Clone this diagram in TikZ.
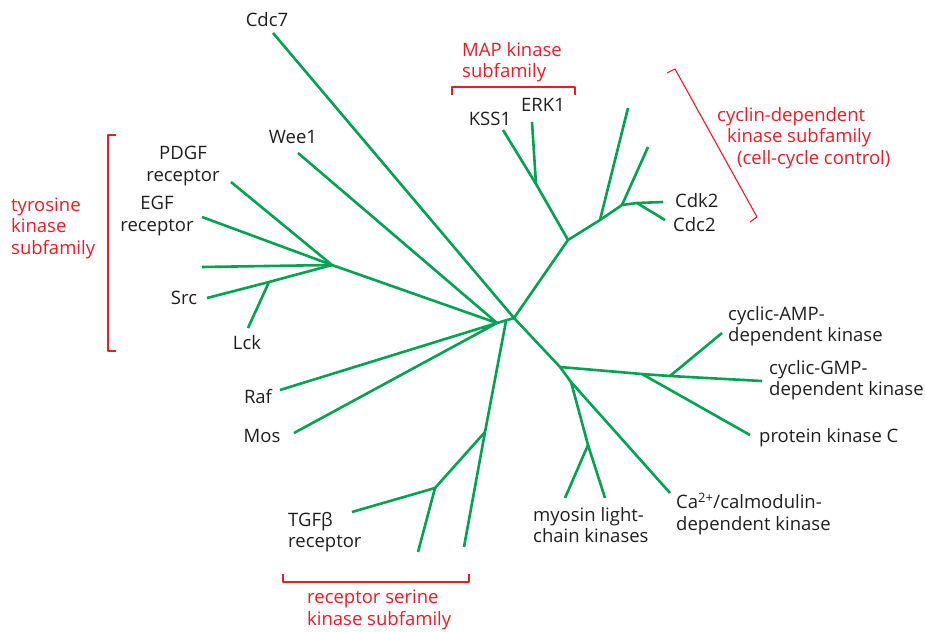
\documentclass[tikz,border=0pt]{standalone}
\usepackage{fontspec}
\setmainfont{Open Sans}
\usetikzlibrary{positioning}
\definecolor{treegreen}{RGB}{0,163,82}
\definecolor{famred}{RGB}{237,28,36}

\begin{document}
\begin{tikzpicture}[x=1pt, y=-1pt, line join=round,
    branch/.style = {draw=treegreen, line width=2.6pt},
    bracket/.style = {draw=famred, line width=1.1pt},
    lbl/.style = {font=\fontsize{18.5}{21.5}\selectfont, text=black!88, inner sep=0pt, align=left},
    fam/.style = {lbl, text=famred}]
    \useasboundingbox (0,0) rectangle (925,631);

    % junctions
    \coordinate (j0) at (497,323);
    \coordinate (j1) at (514,318);
    \coordinate (jr) at (506,321);
    \coordinate (ty) at (332,265);
    \coordinate (lckj) at (269,282);
    \coordinate (r1) at (485,432);
    \coordinate (r2) at (435,488);
    \coordinate (m0) at (568,240);
    \coordinate (m1) at (536,184);
    \coordinate (c1) at (600,220);
    \coordinate (c2) at (622,205);
    \coordinate (c3) at (637,203);
    \coordinate (p0) at (560,367);
    \coordinate (p1) at (642,374);
    \coordinate (p2) at (670,376);
    \coordinate (p3) at (571,382);
    \coordinate (p4) at (588,445);
    % leaf ends
    \coordinate (cdc7end) at (273,33);
    \coordinate (wee1end) at (298,153);
    \coordinate (pdgfend) at (231,182);
    \coordinate (egfend) at (202,217);
    \coordinate (tyxend) at (202,267);
    \coordinate (srcend) at (207,298);
    \coordinate (lckend) at (248,328);
    \coordinate (rafend) at (280,390);
    \coordinate (mosend) at (294,433);
    \coordinate (r1end) at (464,547);
    \coordinate (tgfbend) at (352,512);
    \coordinate (r2end) at (418,552);
    \coordinate (kss1end) at (503,130);
    \coordinate (erk1end) at (532,122);
    \coordinate (c1end) at (628,108);
    \coordinate (c2end) at (648,147);
    \coordinate (cdk2end) at (663,202);
    \coordinate (cdc2end) at (665,220);
    \coordinate (campend) at (722,333);
    \coordinate (cgmpend) at (762,381);
    \coordinate (pkcend) at (750,435);
    \coordinate (caend) at (670,493);
    \coordinate (my1end) at (565,498);
    \coordinate (my2end) at (605,498);

    % tree
    \draw[branch] (cdc7end) -- (j1) -- (p0) -- (p3) -- (caend);
    \draw[branch] (wee1end) -- (j0) -- (j1) -- (m0) -- (c1) -- (c2) -- (c3) -- (cdk2end);
    \draw[branch] (m0) -- (m1) -- (kss1end);
    \draw[branch] (m1) -- (erk1end);
    \draw[branch] (c1) -- (c1end);
    \draw[branch] (c2) -- (c2end);
    \draw[branch] (c3) -- (cdc2end);
    \draw[branch] (j0) -- (ty) -- (pdgfend);
    \draw[branch] (ty) -- (egfend);
    \draw[branch] (ty) -- (tyxend);
    \draw[branch] (ty) -- (lckj) -- (srcend);
    \draw[branch] (lckj) -- (lckend);
    \draw[branch] (rafend) -- (j0) -- (mosend);
    \draw[branch] (jr) -- (r1) -- (r1end);
    \draw[branch] (r1) -- (r2) -- (tgfbend);
    \draw[branch] (r2) -- (r2end);
    \draw[branch] (p0) -- (p1) -- (p2) -- (cgmpend);
    \draw[branch] (p2) -- (campend);
    \draw[branch] (p1) -- (pkcend);
    \draw[branch] (p3) -- (p4) -- (my1end);
    \draw[branch] (p4) -- (my2end);

    % labels
    \node[lbl] (cdc7) at (267,20) {Cdc7};
    \node[lbl] (wee1) at (293,137) {Wee1};
    \node[lbl, align=center] (pdgf) at (183,166) {PDGF\\receptor};
    \node[lbl, align=center] (egf) at (157,216) {EGF\\receptor};
    \node[lbl] (src) at (184,298) {Src};
    \node[lbl] (lck) at (247,343) {Lck};
    \node[lbl] (raf) at (258,397) {Raf};
    \node[lbl] (mos) at (262,436) {Mos};
    \node[lbl, anchor=west] (tgfb) at (288,532) {TGFβ\\receptor};
    \node[lbl, anchor=west] (myosin) at (533,525) {myosin light-\\chain kinases};
    \node[lbl, anchor=west] (camk) at (676,514) {Ca\textsuperscript{2+}/calmodulin-\\dependent kinase};
    \node[lbl, anchor=west] (pkc) at (759,438) {protein kinase C};
    \node[lbl, anchor=west] (cgmp) at (769,380) {cyclic-GMP-\\dependent kinase};
    \node[lbl, anchor=west] (camp) at (728,326) {cyclic-AMP-\\dependent kinase};
    \node[lbl, anchor=west] (cdk2) at (675,201) {Cdk2};
    \node[lbl, anchor=west] (cdc2) at (673,225) {Cdc2};
    \node[lbl] (kss1) at (490,119) {KSS1};
    \node[lbl] (erk1) at (543,105) {ERK1};

    % subfamilies
    \node[fam, anchor=west] (mapfam) at (462,62) {MAP kinase\\subfamily};
    \draw[bracket] (452,95) -- (452,87) -- (575,87) -- (575,95);
    \node[fam, anchor=west] (cdkfam) at (717,138) {cyclin-dependent\\\hspace*{10pt}kinase subfamily\\\hspace*{20pt}(cell-cycle control)};
    \draw[bracket] (667,73) -- (675,69) -- (757,217) -- (750,222);
    \node[fam, anchor=west] (tyrfam) at (11,228) {tyrosine\\kinase\\subfamily};
    \draw[bracket] (116,135) -- (108,135) -- (108,351) -- (116,351);
    \node[fam, anchor=west] (serfam) at (307,610) {receptor serine\\kinase subfamily};
    \draw[bracket] (283,574) -- (283,582) -- (469,582) -- (469,574);
\end{tikzpicture}
\end{document}
